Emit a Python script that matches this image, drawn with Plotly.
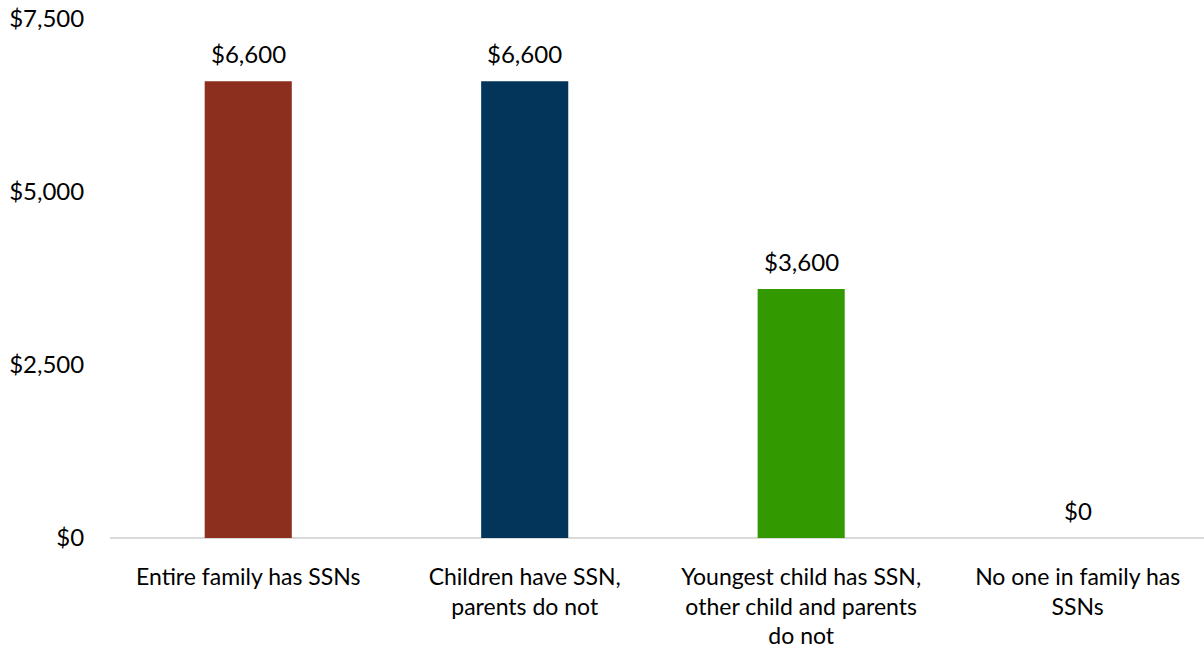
import plotly.graph_objects as go

categories = ["Entire family has SSNs", "Children have SSN,<br>parents do not",
              "Youngest child has SSN,<br>other child and parents<br>do not", "No one in family has<br>SSNs"]
values = [6600, 6600, 3600, 0]
value_labels = ["$6,600", "$6,600", "$3,600", "$0"]
colors = ["#8C2F1F", "#03355A", "#339900", "#FFFFFF"]
tick_vals = [0, 2500, 5000, 7500]
tick_text = ["$0", "$2,500", "$5,000", "$7,500"]

FONT = "Lato"
FS = 24
xs = list(range(len(categories)))

fig = go.Figure()
fig.add_trace(go.Bar(x=xs, y=values, marker=dict(color=colors, line=dict(width=0)),
                     width=0.315, hoverinfo="skip"))

for x, v, t in zip(xs, values, value_labels):
    fig.add_annotation(x=x, y=v, text=t, showarrow=False, yanchor="bottom",
                       yshift=11, font=dict(family=FONT, size=FS, color="#000000"))

fig.update_layout(
    width=1204, height=652,
    margin=dict(l=110, r=0, t=19, b=114),
    paper_bgcolor="white", plot_bgcolor="white",
    showlegend=False,
    font=dict(family=FONT, size=FS, color="#000000"),
    xaxis=dict(range=[-0.5, 3.457], tickvals=xs, ticktext=categories,
               showgrid=False, zeroline=False, showline=False, automargin=False,
               ticks="outside", ticklen=18, tickcolor="rgba(0,0,0,0)",
               tickfont=dict(family=FONT, size=23, color="#000000")),
    yaxis=dict(range=[0, 7500], tickvals=tick_vals, ticktext=tick_text,
               showgrid=False, zeroline=True, zerolinecolor="#D9D9D9", zerolinewidth=2,
               showline=False, automargin=False, ticks="outside", ticklen=20,
               tickcolor="rgba(0,0,0,0)",
               tickfont=dict(family=FONT, size=FS, color="#000000")),
)

fig.write_html("out.html")
